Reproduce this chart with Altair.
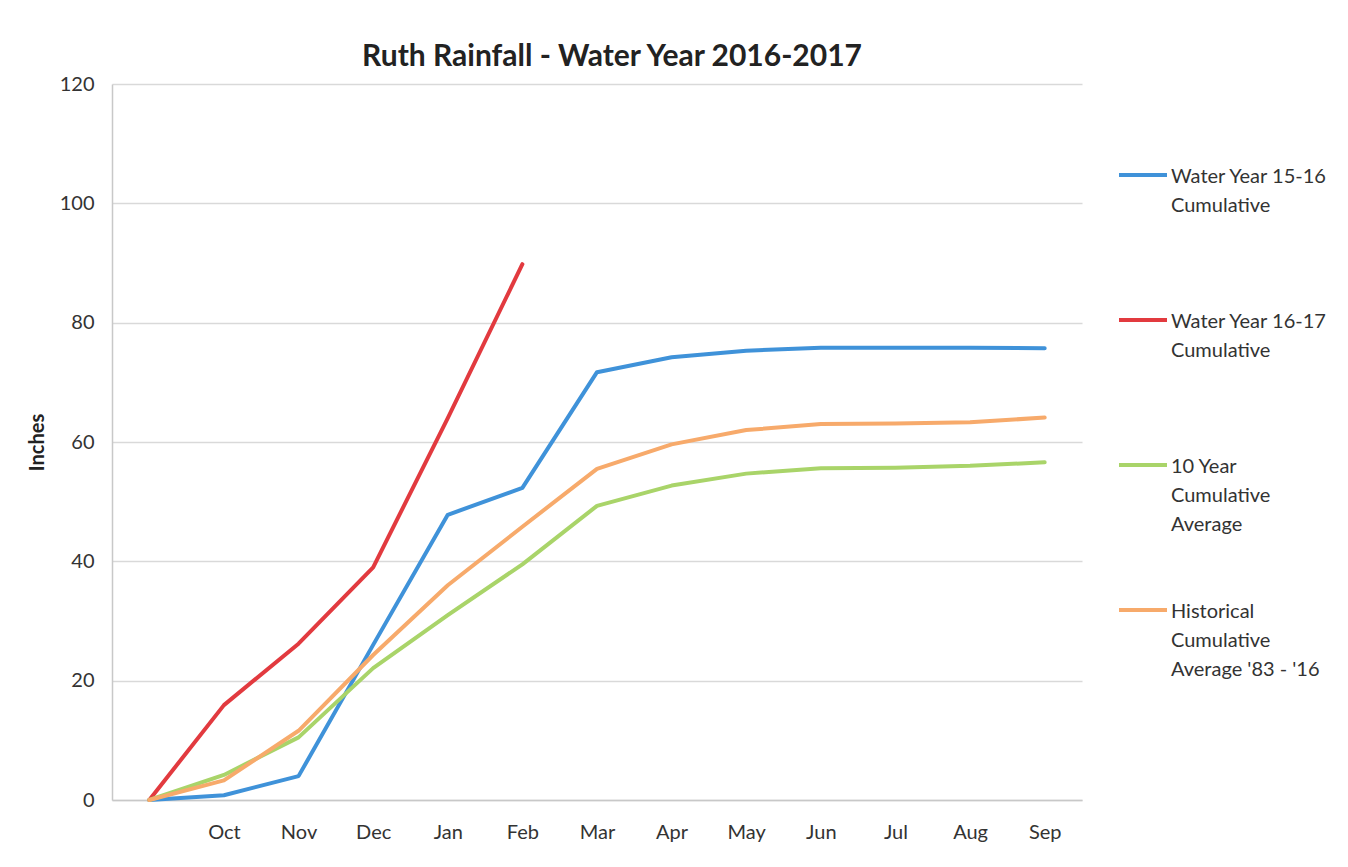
import altair as alt
import pandas as pd

months = ["", "Oct", "Nov", "Dec", "Jan", "Feb", "Mar", "Apr", "May", "Jun", "Jul", "Aug", "Sep"]

series_names = [
    "Water Year 15-16\nCumulative\n",
    "Water Year 16-17\nCumulative\n",
    "10 Year\nCumulative\nAverage",
    "Historical\nCumulative\nAverage '83 - '16",
]
series_colors = ["#3F92D9", "#E23A3F", "#A9D469", "#F7AA6B"]

wy_15_16 = [0, 0.8, 4.0, 26.0, 47.8, 52.3, 71.7, 74.2, 75.3, 75.8, 75.8, 75.8, 75.7]
wy_16_17 = [0, 15.9, 26.2, 39.0, 64.0, 89.8]
ten_year_avg = [0, 4.2, 10.5, 22.1, 31.0, 39.5, 49.3, 52.7, 54.7, 55.6, 55.7, 56.0, 56.6]
historical_avg = [0, 3.3, 11.6, 24.3, 36.0, 45.8, 55.5, 59.6, 62.0, 63.0, 63.1, 63.3, 64.1]

rows = []
for name, vals in zip(series_names, [wy_15_16, wy_16_17, ten_year_avg, historical_avg]):
    for i, v in enumerate(vals):
        rows.append({"Month": months[i], "Inches": v, "Series": name, "order": i})
df = pd.DataFrame(rows)

FONT = "Lato"
LABEL_DY = -8

chart = (
    alt.Chart(df)
    .mark_line(strokeWidth=4, strokeJoin="round", strokeCap="round")
    .encode(
        x=alt.X(
            "Month:O",
            sort=months,
            scale=alt.Scale(type="point", padding=0.5),
            axis=alt.Axis(
                title=None,
                labelAngle=0,
                labelFontSize=20,
                labelFont=FONT,
                labelColor="#333333",
                labelPadding=22 - LABEL_DY,
                ticks=False,
                domain=True,
                domainColor="#c8c8c8",
                domainWidth=1.5,
                grid=False,
            ),
        ),
        y=alt.Y(
            "Inches:Q",
            scale=alt.Scale(domain=[0, 120], nice=False),
            axis=alt.Axis(
                title="Inches",
                titleFont=FONT,
                titleFontSize=20,
                titleFontWeight="bold",
                titleColor="#222222",
                titlePadding=12,
                values=[0, 20, 40, 60, 80, 100, 120],
                labelFontSize=20,
                labelFont=FONT,
                labelColor="#333333",
                labelPadding=18,
                labelOffset=-LABEL_DY,
                ticks=False,
                domain=True,
                domainColor="#c8c8c8",
                domainWidth=1.5,
                grid=True,
                gridColor="#d9d9d9",
                gridWidth=1.5,
            ),
        ),
        color=alt.Color(
            "Series:N",
            scale=alt.Scale(domain=series_names, range=series_colors),
            legend=alt.Legend(
                title=None,
                orient="none",
                legendX=1005,
                legendY=65,
                direction="vertical",
                symbolType="stroke",
                symbolSize=2304,
                symbolStrokeWidth=4,
                labelFont=FONT,
                labelFontSize=20,
                labelColor="#333333",
                labelOffset=2,
                labelBaseline="top",
                labelLimit=300,
                labelExpr="split(datum.label, '\\n')",
                rowPadding=49,
                padding=0,
            ),
        ),
        order="order:Q",
    )
    .properties(
        width=970,
        height=716,
        padding={"left": 19, "top": 34, "right": 0, "bottom": 10},
        title=alt.Title(
            "Ruth Rainfall - Water Year 2016-2017",
            font=FONT,
            fontSize=30,
            fontWeight="bold",
            color="#222222",
            anchor="middle",
            dx=15,
            offset=2,
        ),
    )
    .configure(style={"guide-label": {"lineHeight": 29, "dy": LABEL_DY}})
    .configure_view(stroke=None)
)

chart.save("out.html", embed_options={"renderer": "svg", "actions": False})
